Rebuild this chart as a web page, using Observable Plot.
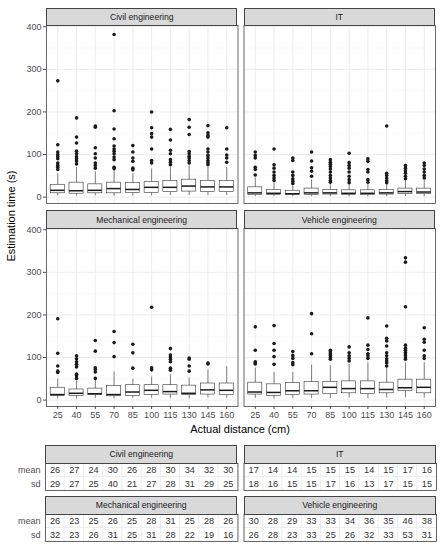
<!DOCTYPE html>
<html>
<head>
<meta charset="utf-8">
<script src="https://cdn.jsdelivr.net/npm/d3@7"></script>
<script src="https://cdn.jsdelivr.net/npm/@observablehq/plot@0.6"></script>
<style>
  html, body { margin: 0; padding: 0; background: #fff; }
  #wrap { position: relative; width: 444px; height: 550px; font-family: "Liberation Sans", Arial, sans-serif; overflow: hidden; }
  #wrap svg { display: block; }
  .strip { position: absolute; box-sizing: border-box; background: #d9d9d9; border: 0.8px solid #444;
           font-size: 8.6px; color: #1a1a1a; display: flex; align-items: center; justify-content: center; white-space: nowrap; }
  .title { position: absolute; font-size: 11px; color: #000; white-space: nowrap; }
</style>
</head>
<body>
<div id="wrap"></div>
<script>
// ---------------- data ----------------
const distances = [25, 40, 55, 70, 85, 100, 115, 130, 145, 160];
const departments = ["Civil engineering", "IT", "Mechanical engineering", "Vehicle engineering"];
const yTicks = [0, 100, 200, 300, 400];
const yMinor = [50, 150, 250, 350];

// box statistics (per distance)
const civilQ1  = [9, 8, 9, 9, 10, 10, 12, 13, 12, 12];
const civilMed = [16, 15, 16, 20, 18, 23, 23, 26, 24, 24];
const civilQ3  = [29, 34, 30, 34, 33, 36, 38, 41, 38, 38];
const civilLo  = [3, 2, 3, 2, 3, 3, 4, 4, 4, 4];
const civilHi  = [55, 70, 59, 63, 55, 66, 70, 74, 70, 70];
const civilOut = [
  [273, 123, 106, 100, 95, 90, 80, 75, 70, 65],
  [186, 141, 127, 108, 102, 95, 90, 85, 78],
  [167, 164, 116, 102, 92, 80, 74, 68],
  [382, 203, 160, 137, 120, 113, 108, 102, 94, 88, 70, 67],
  [121, 106, 92, 84, 68, 64],
  [200, 163, 149, 141, 113, 86, 80],
  [159, 134, 110, 102, 88, 82, 76],
  [182, 164, 147, 107, 102, 96, 92, 86, 80],
  [168, 151, 145, 141, 113, 106, 98, 92, 86, 81, 76],
  [163, 113, 99, 92, 82]
];

const itQ1  = [5, 5, 5, 5, 6, 5, 5, 6, 7, 7];
const itMed = [10, 9, 8, 10, 10, 9, 9, 10, 13, 12];
const itQ3  = [23, 17, 15, 20, 17, 16, 16, 17, 20, 20];
const itLo  = [1, 1, 1, 1, 1, 1, 1, 1, 1, 1];
const itHi  = [45, 33, 28, 40, 32, 31, 30, 32, 38, 38];
const itOut = [
  [106, 98, 92, 70, 65, 52],
  [113, 76, 68, 59, 51, 45, 39],
  [92, 86, 59, 51, 43, 37, 32],
  [106, 85, 69, 61, 49],
  [88, 82, 77, 72, 66, 59, 51, 45, 39, 35],
  [103, 81, 74, 68, 59, 49, 41, 34],
  [90, 84, 65, 59, 41, 35],
  [167, 56, 51, 45, 39, 34],
  [74, 68, 62, 56, 49, 43],
  [80, 74, 66, 59, 51, 45]
];

const mechQ1  = [10, 10, 12, 9, 10, 12, 13, 12, 13, 12];
const mechMed = [13, 16, 15, 13, 19, 23, 20, 16, 24, 23];
const mechQ3  = [29, 25, 27, 33, 35, 35, 35, 34, 39, 39];
const mechLo  = [3, 3, 4, 3, 4, 5, 4, 3, 5, 4];
const mechHi  = [49, 45, 47, 66, 49, 54, 60, 52, 71, 78];
const mechOut = [
  [191, 110, 80, 68, 65],
  [104, 97, 90, 84, 78, 61, 57, 51],
  [140, 115, 76, 72, 66, 51],
  [161, 135, 102],
  [131, 111, 75],
  [218, 76, 71],
  [121, 106, 101, 96, 90, 75, 70],
  [99, 96, 80, 68],
  [87, 85],
  []
];

const vehQ1  = [13, 10, 12, 13, 14, 16, 14, 16, 21, 16];
const vehMed = [19, 18, 22, 22, 30, 27, 27, 25, 29, 30];
const vehQ3  = [41, 37, 40, 43, 43, 44, 44, 41, 48, 48];
const vehLo  = [4, 3, 4, 4, 4, 5, 4, 5, 6, 5];
const vehHi  = [75, 65, 65, 82, 82, 84, 88, 76, 87, 88];
const vehOut = [
  [172, 117, 90, 87, 85],
  [175, 133, 117, 102, 84],
  [114, 105, 98, 88, 83],
  [203, 156, 109],
  [117, 113, 109, 105, 100, 96],
  [125, 111, 104, 98, 92],
  [193, 129, 119, 109, 104, 98],
  [174, 145, 139, 127, 111, 104, 97, 92, 87, 80],
  [334, 324, 219, 129, 122, 117, 112, 108, 104, 99, 96],
  [170, 143, 136, 117, 104, 98]
];

// summary table
const civilMean = [26, 27, 24, 30, 26, 28, 30, 34, 32, 30];
const civilSd   = [29, 27, 25, 40, 21, 27, 28, 31, 29, 25];
const itMean    = [17, 14, 14, 15, 15, 15, 14, 15, 17, 16];
const itSd      = [18, 16, 15, 15, 17, 16, 13, 17, 15, 15];
const mechMean  = [26, 23, 25, 26, 25, 28, 31, 25, 28, 26];
const mechSd    = [32, 23, 26, 31, 25, 31, 28, 22, 19, 16];
const vehMean   = [30, 28, 29, 33, 33, 34, 36, 35, 46, 38];
const vehSd     = [26, 28, 23, 33, 25, 26, 32, 33, 53, 31];
const statNames = ["mean", "sd"];

// ---------------- build tables ----------------
const Q1 = [civilQ1, itQ1, mechQ1, vehQ1];
const MED = [civilMed, itMed, mechMed, vehMed];
const Q3 = [civilQ3, itQ3, mechQ3, vehQ3];
const LO = [civilLo, itLo, mechLo, vehLo];
const HI = [civilHi, itHi, mechHi, vehHi];
const OUT = [civilOut, itOut, mechOut, vehOut];
const MEAN = [civilMean, itMean, mechMean, vehMean];
const SD = [civilSd, itSd, mechSd, vehSd];

const boxes = [], outliers = [], tableRows = [];
departments.forEach((dept, k) => {
  const col = k % 2, row = Math.floor(k / 2);
  distances.forEach((dist, i) => {
    boxes.push({dept, col, row, dist, q1: Q1[k][i], med: MED[k][i], q3: Q3[k][i], lo: LO[k][i], hi: HI[k][i]});
    OUT[k][i].forEach(v => outliers.push({dept, col, row, dist, value: v}));
    tableRows.push({dept, col, row, dist, stat: statNames[0], value: MEAN[k][i]});
    tableRows.push({dept, col, row, dist, stat: statNames[1], value: SD[k][i]});
  });
});

const font = '"Liberation Sans", Arial, sans-serif';
const F = {fx: "col", fy: "row"};

// ---------------- main plot ----------------
const main = Plot.plot({
  width: 444, height: 440,
  marginTop: 25, marginBottom: 34, marginLeft: 46, marginRight: 9,
  style: {fontFamily: font, fontSize: "9px", color: "#4d4d4d", background: "white", overflow: "visible"},
  fx: {domain: [0, 1], axis: null, paddingInner: 0.0304, paddingOuter: 0, round: false},
  fy: {domain: [0, 1], axis: null, paddingInner: 0.123, paddingOuter: 0, round: false},
  x: {type: "band", domain: distances, paddingInner: 0.25, paddingOuter: 0.225, round: false,
      tickSize: 3, tickPadding: 2, label: null},
  y: {domain: [-15, 403], ticks: yTicks, tickSize: 3, tickPadding: 2, label: null},
  marks: [
    Plot.ruleY(yMinor, {stroke: "#f2f2f2", strokeWidth: 0.5}),
    Plot.ruleY(yTicks, {stroke: "#ebebeb", strokeWidth: 0.9}),
    Plot.gridX({stroke: "#ebebeb", strokeOpacity: 1, strokeWidth: 0.9}),
    Plot.ruleX(boxes, {...F, x: "dist", y1: "lo", y2: "q1", stroke: "#333", strokeWidth: 0.6}),
    Plot.ruleX(boxes, {...F, x: "dist", y1: "q3", y2: "hi", stroke: "#333", strokeWidth: 0.6}),
    Plot.barY(boxes, {...F, x: "dist", y1: "q1", y2: "q3", fill: "white", stroke: "#333", strokeWidth: 0.6}),
    Plot.tickY(boxes, {...F, x: "dist", y: "med", stroke: "#1a1a1a", strokeWidth: 1.5}),
    Plot.dot(outliers, {...F, x: "dist", y: "value", r: 1.8, fill: "#1a1a1a"}),
    Plot.frame({stroke: "#444", strokeWidth: 0.8})
  ]
});

// ---------------- table plot ----------------
const table = Plot.plot({
  width: 444, height: 110,
  marginTop: 23, marginBottom: 9, marginLeft: 45, marginRight: 8,
  style: {fontFamily: font, fontSize: "9px", color: "#4d4d4d", background: "white", overflow: "visible"},
  fx: {domain: [0, 1], axis: null, paddingInner: 0.0304, paddingOuter: 0, round: false},
  fy: {domain: [0, 1], axis: null, paddingInner: 0.47, paddingOuter: 0, round: false},
  x: {type: "band", domain: distances, padding: 0, round: false, axis: null},
  y: {type: "band", domain: statNames, padding: 0, round: false, tickSize: 0, tickPadding: 5, label: null},
  marks: [
    Plot.cell(tableRows, {...F, x: "dist", y: "stat", fill: "white", stroke: "#ececec", strokeWidth: 0.8}),
    Plot.text(tableRows, {...F, x: "dist", y: "stat", text: d => String(d.value), fill: "#333", fontSize: 9.2}),
    Plot.frame({stroke: "#444", strokeWidth: 0.8})
  ]
});

// ---------------- assemble ----------------
const wrap = document.getElementById("wrap");
main.style.position = "absolute"; main.style.left = "0px"; main.style.top = "0px";
table.style.position = "absolute"; table.style.left = "0px"; table.style.top = "440px";
wrap.appendChild(main);
wrap.appendChild(table);

function addStrips(chart, offsetTop, stripH) {
  const fx = chart.scale("fx"), fy = chart.scale("fy");
  departments.forEach((dept, k) => {
    const col = k % 2, row = Math.floor(k / 2);
    const left = fx.apply(col), top = fy.apply(row);
    const s = document.createElement("div");
    s.className = "strip";
    s.textContent = dept;
    s.style.left = left + "px";
    s.style.width = fx.bandwidth + "px";
    s.style.top = (offsetTop + top - stripH) + "px";
    s.style.height = (stripH + 0.6) + "px";
    wrap.appendChild(s);
  });
}
addStrips(main, 0, 17.5);
addStrips(table, 440, 18);

const yt = document.createElement("div");
yt.className = "title";
yt.textContent = "Estimation time (s)";
yt.style.left = "11px"; yt.style.top = "216px";
yt.style.transform = "translate(-50%, -50%) rotate(-90deg)";
wrap.appendChild(yt);

const xt = document.createElement("div");
xt.className = "title";
xt.textContent = "Actual distance (cm)";
xt.style.left = "240px"; xt.style.top = "429px";
xt.style.transform = "translate(-50%, -50%)";
wrap.appendChild(xt);
</script>
</body>
</html>
